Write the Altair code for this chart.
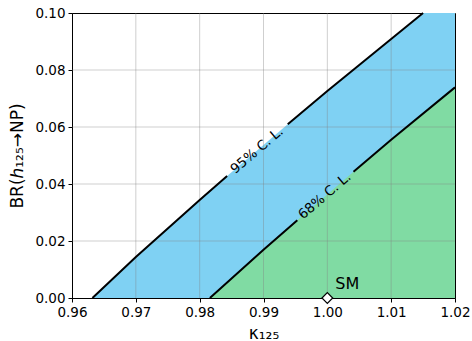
import altair as alt
import pandas as pd

# 95% C.L. contour
k95 = [0.9632, 0.97, 0.98, 0.9843, 0.9938, 1.00, 1.01, 1.015]
br95 = [0.0, 0.0144, 0.0344, 0.0428, 0.0610, 0.0726, 0.0909, 0.100]
seg95 = [1, 1, 1, 1, 2, 2, 2, 2]

# 68% C.L. contour
k68 = [0.9816, 0.99, 0.9953, 1.0041, 1.01, 1.02]
br68 = [0.0, 0.0169, 0.0273, 0.0443, 0.0555, 0.0739]
seg68 = [1, 1, 1, 2, 2, 2]

# Fill for the blue region extends to the right edge at top
k_fill_end = 1.02
br_fill_end = 0.100

x_ticks = [0.96, 0.97, 0.98, 0.99, 1.00, 1.01, 1.02]
y_ticks = [0.00, 0.02, 0.04, 0.06, 0.08, 0.10]

sm_k = [1.00]
sm_br = [0.00]

label_text = ["95% C. L.", "68% C. L."]
label_k = [0.989, 0.9996]
label_br = [0.0518, 0.0358]

BLUE = "#7fd1f3"
GREEN = "#80dba3"
FONT = "DejaVu Sans"

df95 = pd.DataFrame({"k": k95, "br": br95, "seg": seg95})
df68 = pd.DataFrame({"k": k68, "br": br68, "seg": seg68})
dfblue = pd.DataFrame({"k": k95 + [k_fill_end], "br": br95 + [br_fill_end]})
dfgreen = pd.DataFrame({"k": k68, "br": br68})
dfgx = pd.DataFrame({"v": x_ticks[1:-1]})
dfgy = pd.DataFrame({"v": y_ticks[1:-1]})
dfsm = pd.DataFrame({"k": sm_k, "br": sm_br, "t": ["SM"]})
dflab = pd.DataFrame({"k": label_k, "br": label_br, "t": label_text})

xs = alt.Scale(domain=[0.96, 1.02], nice=False, zero=False)
ys = alt.Scale(domain=[0.0, 0.10], nice=False)

xax = alt.Axis(values=x_ticks, format=".2f", grid=False, title="κ₁₂₅",
               titleY=40, titleBaseline="alphabetic", titleFontSize=17,
               titleFontWeight="normal", labelFontSize=13.5, tickSize=4,
               labelPadding=3, domainColor="#000", tickColor="#000",
               labelColor="#000", titleColor="#000", labelFlush=False)
yax = alt.Axis(values=y_ticks, format=".2f", grid=False, title="BR(ℎ₁₂₅→NP)",
               titleX=-50, titleY=142.5, titleAngle=270, titleBaseline="alphabetic",
               titleFontSize=17, titleFontWeight="normal", labelFontSize=13.5,
               tickSize=4, labelPadding=3, domainColor="#000", tickColor="#000",
               labelColor="#000", titleColor="#000", labelFlush=False)

blue = alt.Chart(dfblue).mark_area(color=BLUE, opacity=1).encode(
    x=alt.X("k:Q", scale=xs, axis=xax),
    y=alt.Y("br:Q", scale=ys, axis=yax, stack=None),
)
green = alt.Chart(dfgreen).mark_area(color=GREEN, opacity=1).encode(
    x=alt.X("k:Q", scale=xs),
    y=alt.Y("br:Q", scale=ys, stack=None),
)
gridx = alt.Chart(dfgx).mark_rule(color="#808080", opacity=0.38, strokeWidth=1).encode(
    x=alt.X("v:Q", scale=xs)
)
gridy = alt.Chart(dfgy).mark_rule(color="#808080", opacity=0.38, strokeWidth=1).encode(
    y=alt.Y("v:Q", scale=ys)
)
line95 = alt.Chart(df95).mark_line(color="#000", strokeWidth=2).encode(
    x=alt.X("k:Q", scale=xs), y=alt.Y("br:Q", scale=ys),
    detail="seg:N", order=alt.Order("k:Q"),
)
line68 = alt.Chart(df68).mark_line(color="#000", strokeWidth=2).encode(
    x=alt.X("k:Q", scale=xs), y=alt.Y("br:Q", scale=ys),
    detail="seg:N", order=alt.Order("k:Q"),
)
labels = alt.Chart(dflab).mark_text(
    font=FONT, fontSize=13.5, angle=319.5, align="center", baseline="middle", color="#000"
).encode(x=alt.X("k:Q", scale=xs), y=alt.Y("br:Q", scale=ys), text="t:N")

sm_pt = alt.Chart(dfsm).mark_point(
    shape="diamond", filled=True, fill="white", stroke="#000", strokeWidth=1.2,
    size=115, opacity=1, clip=False
).encode(x=alt.X("k:Q", scale=xs), y=alt.Y("br:Q", scale=ys))
sm_txt = alt.Chart(dfsm).mark_text(
    font=FONT, fontSize=16, align="left", baseline="alphabetic", dx=8, dy=-9.5, color="#000"
).encode(x=alt.X("k:Q", scale=xs), y=alt.Y("br:Q", scale=ys), text="t:N")

chart = alt.layer(blue, green, gridx, gridy, line95, line68, labels, sm_pt, sm_txt).properties(
    width=383, height=285,
    autosize=alt.AutoSizeParams(type="none"),
    padding={"left": 72, "top": 13, "right": 17, "bottom": 43},
).configure(font=FONT).configure_view(stroke="#000", strokeWidth=1).configure_axis(
    labelFont=FONT, titleFont=FONT
)

chart.save("out.html", embed_options={"renderer": "svg", "actions": False})
